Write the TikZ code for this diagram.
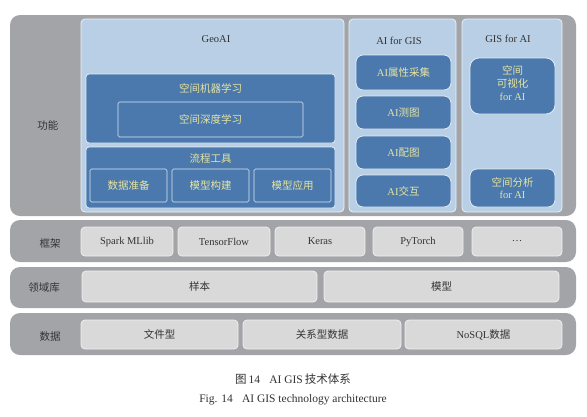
\documentclass[tikz,border=0pt]{standalone}
\usepackage{fontspec}
\setmainfont{Liberation Serif}
\newfontfamily\cjk{Noto Sans CJK SC}
\newcommand\zh[1]{{\cjk #1}}
\definecolor{bandgray}{HTML}{A3A4A8}
\definecolor{lightblue}{HTML}{B9CFE6}
\definecolor{darkblue}{HTML}{4B79AD}
\definecolor{paleyellow}{HTML}{E6E4A0}
\definecolor{boxgray}{HTML}{D9D9D9}
\definecolor{txtgray}{HTML}{333333}
\tikzset{
  band/.style={fill=bandgray, draw=none, rounded corners=10pt, inner sep=0pt},
  panel/.style={fill=lightblue, draw=white!70!lightblue, line width=0.8pt, rounded corners=4pt, inner sep=0pt},
  dbox/.style={fill=darkblue, draw=white!60!lightblue, line width=0.8pt, rounded corners=3pt, inner sep=0pt, text=paleyellow, font=\fontsize{10.5}{13}\selectfont, align=center},
  rbox/.style={dbox, rounded corners=7pt},
  obox/.style={draw=white!50!lightblue, line width=0.6pt, rounded corners=1.5pt, inner sep=0pt, text=paleyellow, font=\fontsize{10.5}{13}\selectfont, align=center},
  gbox/.style={fill=boxgray, draw=white!60!boxgray, line width=0.8pt, rounded corners=4pt, inner sep=0pt, text=txtgray, font=\fontsize{10.5}{13}\selectfont},
  lbl/.style={text=txtgray, font=\fontsize{10.5}{13}\selectfont, inner sep=0pt},
  ylbl/.style={text=paleyellow, font=\fontsize{10.5}{13}\selectfont, inner sep=0pt},
}
\begin{document}
\begin{tikzpicture}[x=1pt,y=-1pt]
\useasboundingbox[fill=white] (0,0) rectangle (587,416);
% function band
\node[band, minimum width=566pt, minimum height=201pt] (fband) at (293,115.5) {};
\node[lbl] (fl) at (48,125) {\zh{功能}};
% GeoAI
\node[panel, minimum width=263pt, minimum height=193pt] (geo) at (212.5,115.5) {};
\node[lbl] (geot) at (216,39) {GeoAI};
\node[dbox, minimum width=249pt, minimum height=69pt] (sml) at (210.5,108.5) {};
\node[ylbl] (smlt) at (210.5,88) {\zh{空间机器学习}};
\node[obox, minimum width=185pt, minimum height=35pt] (sdl) at (210.5,119.5) {\zh{空间深度学习}};
\node[dbox, minimum width=249pt, minimum height=61pt] (flow) at (210.5,177.5) {};
\node[ylbl] (flowt) at (210.5,159) {\zh{流程工具}};
\node[obox, minimum width=77pt, minimum height=33pt] (s1) at (128.5,185.5) {\zh{数据准备}};
\node[obox, minimum width=77pt, minimum height=33pt] (s2) at (210.5,185.5) {\zh{模型构建}};
\node[obox, minimum width=77pt, minimum height=33pt] (s3) at (292.5,185.5) {\zh{模型应用}};
% AI for GIS
\node[panel, minimum width=107pt, minimum height=193pt] (a4g) at (402.5,115.5) {};
\node[lbl] (a4gt) at (399,41) {AI for GIS};
\node[rbox, minimum width=95pt, minimum height=35pt] (a1) at (403.5,72.5) {AI\zh{属性采集}};
\node[rbox, minimum width=95pt, minimum height=33pt] (a2) at (403.5,112.5) {AI\zh{测图}};
\node[rbox, minimum width=95pt, minimum height=33pt] (a3) at (403.5,152.5) {AI\zh{配图}};
\node[rbox, minimum width=95pt, minimum height=32pt] (a4) at (403.5,191) {AI\zh{交互}};
% GIS for AI
\node[panel, minimum width=100pt, minimum height=193pt] (g4a) at (512,115.5) {};
\node[lbl] (g4at) at (508,39) {GIS for AI};
\node[rbox, rounded corners=9pt, minimum width=85pt, minimum height=56pt] (g1) at (512.5,86) {};
\node[ylbl, align=center, font=\fontsize{10.5}{13}\selectfont] (g1t) at (512.5,83) {\zh{空间}\\\zh{可视化}\\for AI};
\node[rbox, minimum width=85pt, minimum height=38pt, font=\fontsize{10.5}{12.5}\selectfont] (g2) at (512.5,188) {\zh{空间分析}\\for AI};
% framework band
\node[band, minimum width=566pt, minimum height=42pt] (kband) at (293,241) {};
\node[lbl] (kl) at (50,243) {\zh{框架}};
\node[gbox, minimum width=92pt, minimum height=29pt] (k1) at (127,241.5) {Spark MLlib};
\node[gbox, minimum width=92pt, minimum height=29pt] (k2) at (224,241.5) {TensorFlow};
\node[gbox, minimum width=90pt, minimum height=29pt] (k3) at (320,241.5) {Keras};
\node[gbox, minimum width=90pt, minimum height=29pt] (k4) at (418,241.5) {PyTorch};
\node[gbox, minimum width=90pt, minimum height=29pt] (k5) at (517,241.5) {\dots};
% domain band
\node[band, minimum width=566pt, minimum height=41pt] (dband) at (293,287.5) {};
\node[lbl] (dl) at (44,288) {\zh{领域库}};
\node[gbox, minimum width=235pt, minimum height=31pt] (d1) at (199.5,286.5) {\zh{样本}};
\node[gbox, minimum width=235pt, minimum height=31pt] (d2) at (441.5,286.5) {\zh{模型}};
% data band
\node[band, minimum width=566pt, minimum height=42pt] (sband) at (293,334) {};
\node[lbl] (sl) at (50,337) {\zh{数据}};
\node[gbox, minimum width=157pt, minimum height=29pt] (x1) at (159.5,334.5) {\zh{文件型}};
\node[gbox, minimum width=158pt, minimum height=29pt] (x2) at (322,334.5) {\zh{关系型数据}};
\node[gbox, minimum width=157pt, minimum height=29pt] (x3) at (483.5,334.5) {NoSQL\zh{数据}};
% captions
\node[lbl, font=\fontsize{11.5}{13}\selectfont] (c1) at (293,379) {\zh{图}\,14\hspace{0.8em}AI GIS\,\zh{技术体系}};
\node[lbl, font=\fontsize{11.5}{13}\selectfont] (c2) at (293,400) {Fig. 14\hspace{0.8em}AI GIS technology architecture};
\end{tikzpicture}
\end{document}
